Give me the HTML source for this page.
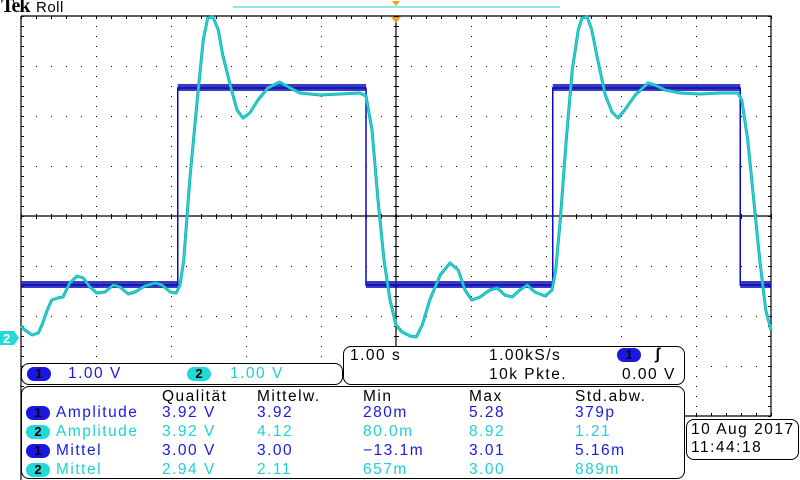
<!DOCTYPE html>
<html><head><meta charset="utf-8"><style>
body{margin:0;background:#fff;width:800px;height:480px;overflow:hidden;position:relative;font-family:"Liberation Sans",sans-serif}
.t{position:absolute;font-size:15.5px;letter-spacing:1.5px;white-space:nowrap;line-height:16px}
.b{color:#1a1ae6}.c{color:#1ed2d2}.k{color:#000}
.badge{position:absolute;width:24px;height:14px;border-radius:8px;font-size:13px;line-height:14px;text-align:center;color:#000;font-weight:bold}
.bb{background:#1818e0}.bc{background:#22d8d8}
.box{position:absolute;border:1px solid #000;border-radius:8px;background:#fff}
</style></head><body>
<svg id="scope" width="800" height="480" style="position:absolute;left:0;top:0">
<g id="grid"></g><g id="traces"></g>
<line x1="233" y1="7" x2="560" y2="7" stroke="#1ed2d2" stroke-width="1"/>
<polygon points="392,1 400,1 396,6" fill="#f0a020"/>
<polygon points="391,17 401,17 396,23" fill="#f0a020"/>
<polygon points="0,331 14,331 19,338 14,345 0,345" fill="#22d8d8"/>
<text x="3" y="343" font-size="13" font-family="Liberation Sans" fill="#fff" font-weight="bold">2</text>
</svg>
<div class="t k" style="left:1px;top:-2px;font-family:'Liberation Serif',serif;font-weight:bold;font-size:20px;letter-spacing:-1px">Tek</div>
<div class="t k" style="left:36px;top:0px;font-size:15px;letter-spacing:0.5px">Roll</div>

<div class="box" style="left:21px;top:363px;width:320px;height:20px"></div>
<div class="badge bb" style="left:27px;top:367px">1</div>
<div class="t b" style="left:68px;top:366px">1.00 V</div>
<div class="badge bc" style="left:187px;top:367px">2</div>
<div class="t c" style="left:230px;top:366px">1.00 V</div>

<div class="box" style="left:343px;top:346px;width:340px;height:37px"></div>
<div class="t k" style="left:350px;top:348px">1.00 s</div>
<div class="t k" style="left:489px;top:348px">1.00kS/s</div>
<div class="badge bb" style="left:617px;top:348px">1</div>
<div class="t k" style="left:655px;top:347px;font-weight:bold">ʃ</div>
<div class="t k" style="left:489px;top:367px">10k Pkte.</div>
<div class="t k" style="left:622px;top:367px">0.00 V</div>

<div class="box" style="left:21px;top:386px;width:662px;height:91px"></div>
<div class="t k" style="left:162px;top:389px">Qualität</div>
<div class="t k" style="left:257px;top:389px">Mittelw.</div>
<div class="t k" style="left:363px;top:389px">Min</div>
<div class="t k" style="left:469px;top:389px">Max</div>
<div class="t k" style="left:575px;top:389px">Std.abw.</div>
<div id="rows"></div>

<div class="box" style="left:686px;top:419px;width:111px;height:39px"></div>
<div class="t k" style="left:691px;top:422px">10 Aug 2017</div>
<div class="t k" style="left:691px;top:440px">11:44:18</div>

<script>
const rowBadges=["1","2","1","2"];
const rowLabels=["Amplitude","Amplitude","Mittel","Mittel"];
const rowQual=["3.92 V","3.92 V","3.00 V","2.94 V"];
const rowMean=["3.92","4.12","3.00","2.11"];
const rowMin=["280m","80.0m","\u221213.1m","657m"];
const rowMax=["5.28","8.92","3.01","3.00"];
const rowStd=["379p","1.21","5.16m","889m"];
// channel 1 square wave
const ch1EdgeTimes=[-2.91,-0.40,2.09,4.59];
const ch1Levels=[0.06,4.0];
const ch1StartHigh=false;
// channel 2 samples
const ch2Times=[-5.00,-4.95,-4.85,-4.77,-4.72,-4.65,-4.59,-4.51,-4.44,-4.35,-4.25,-4.17,-4.08,-3.99,-3.88,-3.77,-3.68,-3.57,-3.48,-3.35,-3.21,-3.12,-3.01,-2.93,-2.88,-2.83,-2.75,-2.65,-2.57,-2.51,-2.44,-2.37,-2.31,-2.21,-2.12,-2.04,-1.95,-1.84,-1.71,-1.55,-1.41,-1.28,-1.01,-0.75,-0.48,-0.40,-0.32,-0.24,-0.16,-0.08,0,0.08,0.19,0.27,0.35,0.45,0.59,0.72,0.83,0.92,1.01,1.12,1.25,1.35,1.45,1.55,1.65,1.75,1.85,1.99,2.08,2.13,2.19,2.27,2.35,2.43,2.48,2.55,2.61,2.69,2.79,2.88,2.96,3.05,3.19,3.36,3.45,3.59,3.79,4.05,4.32,4.56,4.61,4.69,4.77,4.85,4.93,5.00];
const ch2Volts=[0.24,0.16,0.06,0.10,0.26,0.56,0.76,0.80,0.82,1.10,1.24,1.20,1.02,0.90,0.92,1.06,1.02,0.88,0.92,1.04,1.10,1.06,0.92,0.90,1.06,1.56,3.16,4.76,5.96,6.40,6.42,6.16,5.66,5.06,4.56,4.40,4.50,4.76,5.00,5.12,5.00,4.90,4.86,4.88,4.90,4.84,4.16,2.76,1.56,0.76,0.26,0.12,0.04,0.02,0.26,0.76,1.26,1.50,1.36,0.96,0.76,0.82,0.96,1.00,0.86,0.82,0.96,1.06,0.92,0.84,0.96,1.36,2.36,3.96,5.36,6.16,6.40,6.42,6.16,5.56,4.86,4.52,4.40,4.56,4.86,5.10,5.06,4.96,4.90,4.88,4.90,4.90,4.76,3.96,2.76,1.56,0.56,0.16];
const ch1Ground=288, ch2Ground=338, pxPerVolt=50;
const L=21,R=771,T=16,B=416,CX=396,CY=216;
const xS=t=>CX+t*75;
const y1=v=>ch1Ground-v*pxPerVolt;
const y2=v=>ch2Ground-v*pxPerVolt;
const NS="http://www.w3.org/2000/svg";
function mk(tag,attrs,parent){const e=document.createElementNS(NS,tag);for(const k in attrs)e.setAttribute(k,attrs[k]);parent.appendChild(e);return e;}
const g=document.getElementById('grid');
let d="";
for(let i=0;i<=50;i++){const x=L+i*15;for(let j=1;j<8;j++){const y=T+j*50;d+=`M${x} ${y}h1v1h-1z`;}}
for(let i=1;i<10;i++){const x=L+i*75;for(let j=0;j<=40;j++){const y=T+j*10;d+=`M${x} ${y}h1v1h-1z`;}}
for(let i=0;i<=50;i++){const x=L+i*15;d+=`M${x} ${CY-2}h1v5h-1z M${x} ${T}h1v3h-1z M${x} ${B-3}h1v3h-1z`;}
for(let j=0;j<=40;j++){const y=T+j*10;d+=`M${CX-2} ${y}h5v1h-5z M${L} ${y}h3v1h-3z M${R-3} ${y}h3v1h-3z`;}
const gp=mk('path',{d:d,fill:'#000'},g);


const fr=mk('path',{d:`M${L} ${T}H${R}V${B}H683 M${L} ${T}V480 M${L} ${CY}H${R} M${CX} ${T}V346`,stroke:'#000',fill:'none','stroke-width':1.2},g);


const tr=document.getElementById('traces');
// ch1
let hi=ch1StartHigh,pts=[],px=L;
pts.push([L,y1(ch1Levels[hi?1:0])]);
const segs=[];
ch1EdgeTimes.forEach(t=>{const x=xS(t);segs.push([px,x,hi]);pts.push([x,y1(ch1Levels[hi?1:0])]);hi=!hi;pts.push([x,y1(ch1Levels[hi?1:0])]);px=x;});
segs.push([px,R,hi]);pts.push([R,y1(ch1Levels[hi?1:0])]);
segs.forEach(s=>{const y=y1(ch1Levels[s[2]?1:0]);
const r=mk('rect',{x:s[0],y:y-4,width:s[1]-s[0],height:7,fill:'#1a1ab8','fill-opacity':0.85},tr);

});
const p1=mk('polyline',{points:pts.map(p=>p.join(',')).join(' '),fill:'none',stroke:'#0a0ac0','stroke-width':1.5},tr);


// ch2
const p2pts=ch2Times.map((t,i)=>xS(t)+','+y2(ch2Volts[i])).join(' ');
const p2a=mk('polyline',{points:p2pts,fill:'none',stroke:'#14b0b0','stroke-width':3,'stroke-linejoin':'round'},tr);


const p2=mk('polyline',{points:p2pts,fill:'none',stroke:'#2ad6d6','stroke-width':1.3,'stroke-linejoin':'round'},tr);


// rows
const rows=document.getElementById('rows');
const colX=[162,257,363,469,575];
rowLabels.forEach((lab,i)=>{
 const top=405+i*19, cls=rowBadges[i]==="1"?"b":"c";
 const bd=document.createElement('div');bd.className='badge '+(cls==="b"?"bb":"bc");bd.style.left='26px';bd.style.top=(top+1)+'px';bd.textContent=rowBadges[i];
 
 
 rows.appendChild(bd);
 const vals=[lab,rowQual[i],rowMean[i],rowMin[i],rowMax[i],rowStd[i]];
 const xs=[56].concat(colX);
 vals.forEach((v,j)=>{const e=document.createElement('div');e.className='t '+cls;e.style.left=xs[j]+'px';e.style.top=top+'px';e.textContent=v;
 
 
 rows.appendChild(e);});
});
</script>
</body></html>
